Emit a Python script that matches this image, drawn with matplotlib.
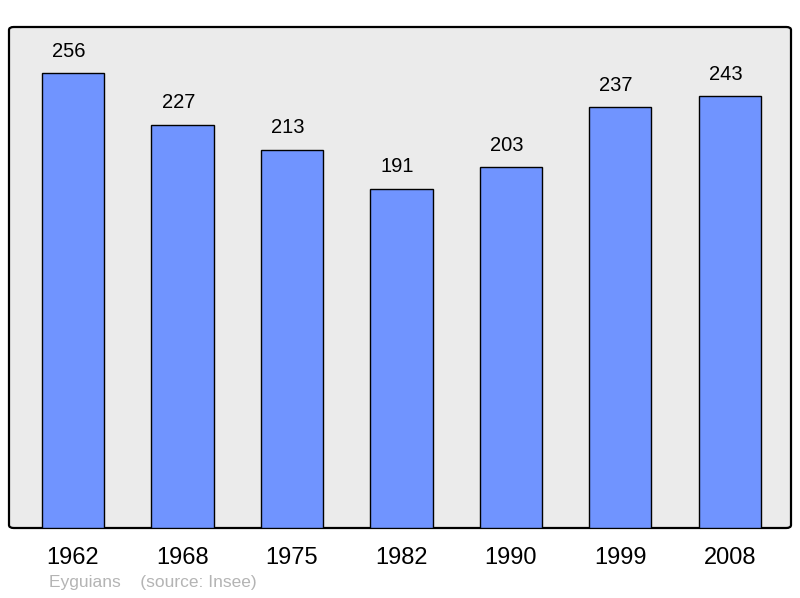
import matplotlib
matplotlib.use("Agg")
import matplotlib.pyplot as plt
from matplotlib.patches import FancyBboxPatch

years = ["1962", "1968", "1975", "1982", "1990", "1999", "2008"]
population = [256, 227, 213, 191, 203, 237, 243]

plt.rcParams['font.family'] = ['Liberation Sans', 'DejaVu Sans']

fig = plt.figure(figsize=(8, 5.98), dpi=100)
ax = fig.add_axes([9 / 800, 1 - 528 / 598, 782 / 800, 501 / 598])
ax.set_facecolor("none")

# rounded background frame
bg = FancyBboxPatch((0, 0), 1, 1, boxstyle="round,pad=0,rounding_size=0.006",
                    transform=ax.transAxes, facecolor="#ebebeb",
                    edgecolor="black", linewidth=1.6, zorder=0, clip_on=False)
ax.add_patch(bg)

x = range(len(years))
bars = ax.bar(x, population, width=0.57, color="#7094ff",
              edgecolor="black", linewidth=1.0, zorder=2)
for xi, v in zip(x, population):
    ax.text(xi - 0.037, v + 7, str(v), ha="center", va="bottom", fontsize=14.5)

ax.set_xlim(-0.585, 6.56)
ax.set_ylim(0, 282)
ax.set_yticks([])
ax.set_xticks(list(x))
ax.set_xticklabels(years, fontsize=17)
ax.tick_params(axis="x", length=0, pad=14)
for s in ax.spines.values():
    s.set_visible(False)

fig.text(49 / 800, 1 - 583 / 598, "Eyguians    (source: Insee)",
         fontsize=12.5, color="#b4b4b4", va="center", ha="left")

fig.savefig("out.png", dpi=100)
